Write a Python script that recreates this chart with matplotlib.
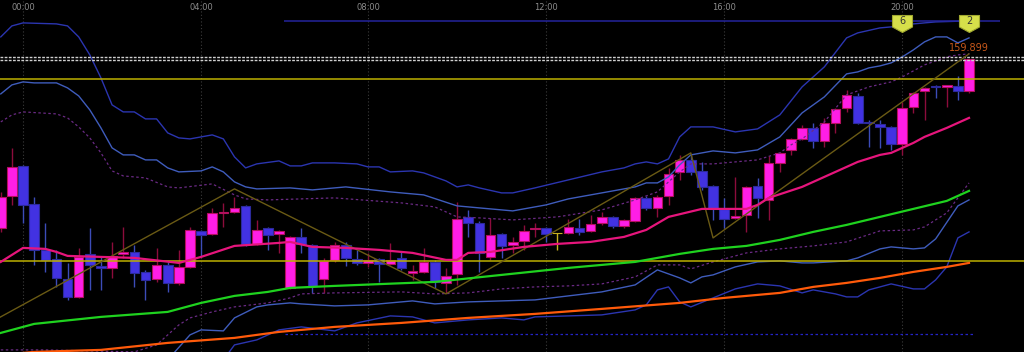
import numpy as np
import matplotlib
matplotlib.use('Agg')
import matplotlib.pyplot as plt
from matplotlib.path import Path
from matplotlib.transforms import blended_transform_factory

# ---- candles (15 min), index 0 = 00:00 ----
idx = np.arange(-2, 86)
opens = [158.209, 158.529, 158.829, 158.449, 157.989, 157.899, 157.699, 157.519, 157.949, 157.829,
         157.809, 157.949, 157.969, 157.769, 157.699, 157.839, 157.659, 157.819, 158.179, 158.149,
         158.359, 158.369, 158.429, 158.049, 158.209, 158.149, 157.609, 158.119, 158.039, 157.699,
         157.889, 158.039, 157.899, 157.859, 157.899, 157.849, 157.909, 157.759, 157.769, 157.869,
         157.659, 157.749, 158.319, 158.259, 157.919, 158.149, 158.039, 158.079, 158.199, 158.209,
         158.159, 158.159, 158.209, 158.179, 158.259, 158.319, 158.229, 158.279, 158.509, 158.409,
         158.529, 158.769, 158.889, 158.779, 158.629, 158.399, 158.309, 158.339, 158.629, 158.489,
         158.859, 158.989, 159.099, 159.209, 159.079, 159.259, 159.409, 159.529, 159.269, 159.249,
         159.219, 159.049, 159.419, 159.579, 159.629, 159.619, 159.629, 159.579]
highs = [158.569, 159.009, 158.839, 158.519, 158.259, 157.989, 157.859, 158.009, 158.209, 157.919,
         158.069, 158.219, 158.039, 157.789, 158.009, 157.869, 157.989, 158.219, 158.189, 158.409,
         158.459, 158.519, 158.439, 158.289, 158.219, 158.189, 158.129, 158.209, 158.049, 157.909,
         158.069, 158.069, 157.989, 157.959, 157.909, 158.059, 157.969, 157.839, 158.009, 157.889,
         157.809, 158.469, 158.389, 158.279, 158.309, 158.159, 158.119, 158.239, 158.259, 158.219,
         158.159, 158.299, 158.299, 158.339, 158.369, 158.329, 158.299, 158.519, 158.529, 158.539,
         158.809, 158.939, 158.939, 158.869, 158.639, 158.509, 158.719, 158.629, 158.709, 158.929,
         158.969, 159.109, 159.239, 159.259, 159.309, 159.409, 159.589, 159.559, 159.289, 159.289,
         159.229, 159.469, 159.569, 159.619, 159.639, 159.639, 159.729, 159.899]
lows = [158.169, 158.439, 158.259, 157.839, 157.769, 157.619, 157.489, 157.509, 157.589, 157.589,
        157.709, 157.909, 157.619, 157.489, 157.669, 157.569, 157.639, 157.809, 157.919, 158.139,
        158.219, 158.359, 158.029, 158.039, 157.989, 157.959, 157.599, 157.959, 157.559, 157.559,
        157.869, 157.829, 157.839, 157.819, 157.669, 157.839, 157.789, 157.689, 157.759, 157.609,
        157.559, 157.639, 158.119, 157.769, 157.889, 157.909, 157.959, 157.989, 158.119, 158.069,
        157.989, 158.149, 158.139, 158.169, 158.239, 158.209, 158.209, 158.269, 158.389, 158.319,
        158.439, 158.689, 158.739, 158.589, 158.289, 158.209, 158.299, 158.169, 158.309, 158.289,
        158.769, 158.939, 159.089, 159.009, 159.019, 159.159, 159.369, 159.249, 159.019, 159.009,
        158.989, 158.939, 159.359, 159.289, 159.509, 159.419, 159.489, 159.559]
closes = [158.519, 158.819, 158.439, 157.989, 157.889, 157.709, 157.519, 157.919, 157.839, 157.809,
          157.929, 157.969, 157.759, 157.689, 157.839, 157.659, 157.819, 158.189, 158.139, 158.359,
          158.369, 158.409, 158.049, 158.189, 158.139, 158.179, 158.119, 158.049, 157.629, 157.879,
          158.039, 157.909, 157.859, 157.889, 157.849, 157.889, 157.809, 157.779, 157.869, 157.669,
          157.729, 158.299, 158.259, 157.959, 158.139, 158.029, 158.069, 158.179, 158.209, 158.149,
          158.159, 158.219, 158.169, 158.249, 158.319, 158.229, 158.289, 158.509, 158.409, 158.519,
          158.749, 158.889, 158.769, 158.619, 158.399, 158.299, 158.329, 158.619, 158.509, 158.859,
          158.959, 159.099, 159.209, 159.079, 159.259, 159.399, 159.539, 159.259, 159.259, 159.219,
          159.049, 159.409, 159.559, 159.609, 159.619, 159.639, 159.579, 159.899]

tick_idx = [0, 16, 31, 47, 63, 79]
tick_labels = ['00:00', '04:00', '08:00', '12:00', '16:00', '20:00']

# ---- moving averages ----
ma_fast_x = [-2, 0, 2, 3, 4, 7, 10, 14, 16, 19, 23, 24, 26, 29, 32, 35, 38, 39, 40, 42, 45, 48, 51, 54,
             56, 58, 61, 65, 66, 67, 70, 72, 75, 77, 78, 80, 81, 83, 85]
ma_fast_y = [157.87, 158.01, 158.00, 157.97, 157.93, 157.92, 157.91, 157.86, 157.92, 158.03, 158.06,
             158.07, 158.02, 158.01, 157.99, 157.96, 157.89, 157.89, 157.96, 157.97, 158.02, 158.05,
             158.07, 158.12, 158.19, 158.32, 158.40, 158.40, 158.44, 158.51, 158.62, 158.72, 158.87,
             158.94, 158.96, 159.06, 159.12, 159.21, 159.31]
ma_mid_x = [-2, 0, 1, 7, 13, 16, 19, 22, 24, 28, 37, 43, 49, 52, 55, 59, 62, 65, 68, 71, 74, 77, 80, 83, 85]
ma_mid_y = [157.16, 157.22, 157.25, 157.32, 157.37, 157.46, 157.53, 157.57, 157.61, 157.63, 157.67,
            157.74, 157.81, 157.84, 157.87, 157.95, 158.00, 158.03, 158.09, 158.17, 158.24, 158.32,
            158.40, 158.48, 158.58]
ma_slow_x = [-2, 1, 7, 13, 19, 23, 28, 34, 40, 46, 52, 59, 63, 68, 71, 74, 77, 80, 83, 85]
ma_slow_y = [156.94, 156.97, 156.99, 157.06, 157.11, 157.17, 157.22, 157.26, 157.31, 157.35, 157.40,
             157.46, 157.51, 157.56, 157.62, 157.66, 157.71, 157.77, 157.82, 157.86]

# ---- bollinger bands ----
bb_up3_x = [-2, -1, 0, 3, 4, 5, 6, 7, 8, 9, 10, 11, 12, 13, 14, 15, 16, 17, 18, 19, 20, 21, 23, 24, 25,
            26, 28, 30, 31, 32, 33, 35, 36, 37, 38, 39, 40, 41, 43, 44, 46, 49, 52, 54, 55, 56, 57, 58,
            59, 60, 62, 64, 66, 68, 70, 72, 74, 75, 77, 78, 80, 82, 85]
bb_up3_y = [160.12, 160.23, 160.26, 160.25, 160.23, 160.12, 159.94, 159.71, 159.44, 159.37, 159.37,
            159.30, 159.30, 159.16, 159.11, 159.10, 159.12, 159.14, 159.10, 158.92, 158.81, 158.85,
            158.88, 158.83, 158.83, 158.86, 158.86, 158.85, 158.82, 158.82, 158.77, 158.78, 158.76,
            158.72, 158.68, 158.62, 158.64, 158.61, 158.56, 158.56, 158.61, 158.69, 158.77, 158.81,
            158.85, 158.87, 158.85, 158.90, 159.12, 159.22, 159.22, 159.17, 159.20, 159.34, 159.62,
            159.82, 160.11, 160.16, 160.21, 160.22, 160.25, 160.27, 160.28]
bb_up2_x = [-2, -1, 0, 1, 3, 4, 5, 6, 7, 8, 9, 10, 11, 12, 13, 14, 16, 17, 18, 19, 20, 21, 24, 26, 29,
            33, 36, 39, 40, 44, 47, 49, 52, 55, 56, 57, 58, 59, 60, 62, 64, 66, 68, 70, 72, 74, 75, 76,
            77, 78, 79, 80, 81, 82, 83, 84, 85]
bb_up2_y = [159.55, 159.64, 159.67, 159.66, 159.66, 159.61, 159.53, 159.39, 159.21, 159.01, 158.94,
            158.94, 158.89, 158.89, 158.81, 158.77, 158.78, 158.82, 158.77, 158.67, 158.62, 158.60,
            158.61, 158.59, 158.62, 158.57, 158.54, 158.43, 158.42, 158.38, 158.44, 158.50, 158.56,
            158.62, 158.66, 158.66, 158.72, 158.84, 158.94, 158.98, 158.96, 158.99, 159.12, 159.36,
            159.52, 159.75, 159.77, 159.81, 159.83, 159.86, 159.92, 159.99, 160.07, 160.12, 160.12,
            160.06, 160.11]
bb_up1_x = [-2, -1, 0, 3, 4, 5, 6, 7, 8, 9, 11, 13, 14, 17, 19, 20, 22, 25, 28, 34, 37, 39, 41, 44, 48,
            52, 55, 57, 59, 60, 62, 66, 68, 69, 70, 72, 74, 75, 76, 78, 79, 81, 83, 84, 85]
bb_up1_y = [159.27, 159.34, 159.37, 159.35, 159.31, 159.22, 159.11, 158.96, 158.78, 158.73, 158.71,
            158.62, 158.61, 158.65, 158.54, 158.50, 158.49, 158.50, 158.51, 158.46, 158.42, 158.32,
            158.31, 158.29, 158.32, 158.39, 158.49, 158.57, 158.77, 158.85, 158.85, 158.89, 158.96,
            159.04, 159.10, 159.27, 159.54, 159.58, 159.62, 159.67, 159.72, 159.84, 159.92, 159.94,
            159.95]
bb_dn1_x = [-2, 2, 10, 12, 13, 14, 15, 17, 19, 22, 24, 25, 28, 34, 37, 40, 43, 46, 49, 52, 55, 57, 59,
            60, 62, 65, 68, 71, 74, 77, 80, 81, 83, 85]
bb_dn1_y = [156.99, 156.99, 156.97, 157.04, 157.14, 157.24, 157.31, 157.37, 157.42, 157.46, 157.51,
            157.55, 157.56, 157.57, 157.55, 157.56, 157.60, 157.62, 157.63, 157.65, 157.72, 157.84,
            157.84, 157.80, 157.87, 157.96, 158.00, 158.03, 158.07, 158.18, 158.19, 158.22, 158.36,
            158.66]
bb_dn2_x = [-2, 10, 13, 15, 16, 18, 19, 21, 22, 24, 25, 28, 31, 35, 37, 40, 43, 46, 49, 52, 55, 57, 59,
            60, 61, 62, 64, 66, 68, 70, 71, 74, 75, 77, 78, 80, 81, 82, 84, 85]
bb_dn2_y = [156.49, 156.69, 156.89, 157.14, 157.19, 157.18, 157.31, 157.42, 157.44, 157.46, 157.45,
            157.43, 157.44, 157.48, 157.45, 157.47, 157.48, 157.49, 157.53, 157.57, 157.64, 157.79,
            157.71, 157.66, 157.72, 157.74, 157.82, 157.87, 157.88, 157.86, 157.86, 157.88, 157.91,
            158.00, 158.02, 158.00, 158.01, 158.10, 158.43, 158.49]
bb_dn3_x = [-2, 12, 18, 19, 21, 23, 25, 28, 30, 33, 35, 37, 40, 43, 45, 46, 52, 55, 56, 57, 58, 59, 60,
            62, 64, 66, 68, 70, 71, 73, 74, 75, 76, 78, 80, 81, 82, 83, 84, 85]
bb_dn3_y = [155.99, 156.29, 156.89, 157.04, 157.09, 157.19, 157.22, 157.18, 157.26, 157.33, 157.32,
            157.26, 157.29, 157.31, 157.29, 157.32, 157.34, 157.39, 157.44, 157.59, 157.62, 157.47,
            157.42, 157.51, 157.60, 157.65, 157.63, 157.56, 157.59, 157.55, 157.52, 157.52, 157.59,
            157.65, 157.60, 157.60, 157.69, 157.82, 158.11, 158.17]

# ---- zigzag + levels ----
zz_x = [-3, 19, 38, 60, 62, 85]
zz_y = [157.26, 158.60, 157.55, 158.96, 158.11, 159.95]
yellow_levels = [159.70, 157.88]
dash_levels = [159.915, 159.888]
top_line = (23.45, 87.8, 160.28)
low_dotted = (23.5, 85.5, 157.15)
flag_idx = [79, 85]
flag_labels = ['6', '2']
flag_price = 160.26
last_label = '159.899'

plt.rcParams['font.family'] = ['DejaVu Sans']

fig = plt.figure(figsize=(10.24, 3.52), dpi=100, facecolor='black')
ax = fig.add_axes([0, 0, 1, 1])
ax.set_facecolor('black')
ax.set_xlim(-2.07, 89.94)
ax.set_ylim(156.969, 160.489)
ax.axis('off')

trans = blended_transform_factory(ax.transData, ax.transAxes)
for t, lab in zip(tick_idx, tick_labels):
    ax.axvline(t, color='#3c3c3c', lw=0.8, ls=(0, (1, 2)), zorder=0)
    ax.text(t, 0.979, lab, transform=trans, ha='center', va='center', color='#8c8c8c', fontsize=6)

# candles
o = np.array(opens)
c = np.array(closes)
up = c > o
dn = c < o
body_col = np.where(up, '#ff1ee6', np.where(dn, '#4232e2', '#c8b020'))
edge_col = np.where(up, '#b3105e', np.where(dn, '#2c2a9c', '#c8b020'))
wick_col = np.where(up, '#8c0c3c', np.where(dn, '#3c4cb8', '#c8b020'))
ax.vlines(idx, lows, highs, colors=wick_col, lw=1.0, zorder=2)
ax.bar(idx, np.abs(c - o), bottom=np.minimum(o, c), width=0.86, color=body_col,
       edgecolor=edge_col, linewidth=0.8, zorder=3)

# bands
ax.plot(bb_up3_x, bb_up3_y, color='#2b35b0', lw=1.0, zorder=4)
ax.plot(bb_up2_x, bb_up2_y, color='#3f5cbc', lw=1.0, zorder=4)
ax.plot(bb_up1_x, bb_up1_y, color='#6a2a84', lw=0.9, ls=(0, (2, 2)), zorder=4)
ax.plot(bb_dn1_x, bb_dn1_y, color='#6a2a84', lw=0.9, ls=(0, (2, 2)), zorder=4)
ax.plot(bb_dn2_x, bb_dn2_y, color='#3f5cbc', lw=1.0, zorder=4)
ax.plot(bb_dn3_x, bb_dn3_y, color='#2b35b0', lw=1.0, zorder=4)

# levels
for lv in yellow_levels:
    ax.axhline(lv, color='#bdb000', lw=1.1, zorder=5)
for lv in dash_levels:
    ax.axhline(lv, color='#d0d0d0', lw=1.0, ls=(0, (2, 1)), zorder=5)
ax.hlines(top_line[2], top_line[0], top_line[1], color='#24249c', lw=1.1, zorder=4)
ax.hlines(low_dotted[2], low_dotted[0], low_dotted[1], color='#2424c8', lw=0.9, ls=(0, (2, 2)), zorder=4)
ax.plot(zz_x, zz_y, color='#6a5a14', lw=1.0, zorder=5)

# moving averages
ax.plot(ma_slow_x, ma_slow_y, color='#ff5a0a', lw=1.6, zorder=6)
ax.plot(ma_mid_x, ma_mid_y, color='#1fd21f', lw=1.6, zorder=6)
ax.plot(ma_fast_x, ma_fast_y, color='#e6157c', lw=1.6, zorder=6)

# flags
flag = Path([(-1, 0.8), (1, 0.8), (1, -0.35), (0, -0.9), (-1, -0.35), (-1, 0.8)],
            [Path.MOVETO, Path.LINETO, Path.LINETO, Path.LINETO, Path.LINETO, Path.CLOSEPOLY])
ax.plot(flag_idx, [flag_price] * len(flag_idx), ls='none', marker=flag, ms=14.4,
        mfc='#d6df4a', mec='#a0a830', mew=0.8, zorder=7)
for fx, fl in zip(flag_idx, flag_labels):
    ax.text(fx, flag_price + 0.02, fl, ha='center', va='center', fontsize=7, color='#333333', zorder=8)

ax.text(idx[-1], 160.01, last_label, ha='center', va='center', fontsize=7, color='#c8581a', zorder=8)

fig.savefig('out.png', dpi=100, facecolor='black')
